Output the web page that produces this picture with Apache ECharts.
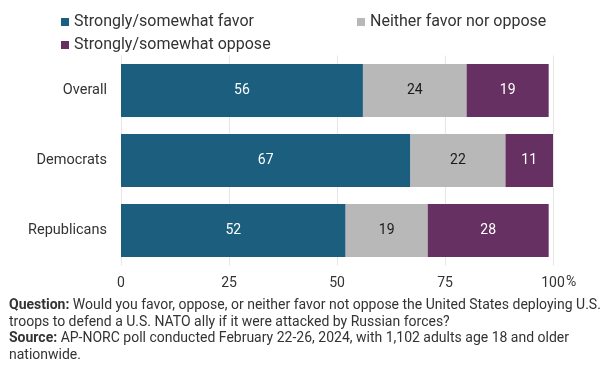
<!DOCTYPE html>
<html><head><meta charset="utf-8">
<script src="https://cdn.jsdelivr.net/npm/echarts@6/dist/echarts.min.js"></script>
<style>html,body{margin:0;padding:0;background:#fff}#c{width:612px;height:374px}</style>
</head><body><div id="c"></div>
<script>
const categories = ['Overall', 'Democrats', 'Republicans'];
const seriesNames = ['Strongly/somewhat favor', 'Neither favor nor oppose', 'Strongly/somewhat oppose'];
const favor = [56, 67, 52];
const neither = [24, 22, 19];
const oppose = [19, 11, 28];
const xTicks = [0, 25, 50, 75, 100];
const colors = ['#1b5e7e', '#b8b8b8', '#673062'];
const labelColors = ['#ffffff', '#1a1a1a', '#ffffff'];
const values = [favor, neither, oppose];

const FONT = 'Roboto';
const chart = echarts.init(document.getElementById('c'), null, {renderer: 'canvas'});
chart.setOption({
  animation: false,
  textStyle: {fontFamily: FONT},
  color: colors,
  legend: [
    {data: [seriesNames[0], seriesNames[1]], left: 56, top: 9, icon: 'rect', itemWidth: 8, itemHeight: 8, itemGap: 103,
     textStyle: {fontFamily: FONT, fontSize: 16, color: '#333'}},
    {data: [seriesNames[2]], left: 56, top: 32, icon: 'rect', itemWidth: 8, itemHeight: 8,
     textStyle: {fontFamily: FONT, fontSize: 16, color: '#333'}}
  ],
  grid: {left: 121, right: 59, top: 55.5, bottom: 108.5, containLabel: false},
  xAxis: {
    type: 'value', min: 0, max: 100, interval: 25,
    axisLine: {show: false}, axisTick: {show: false},
    splitLine: {lineStyle: {color: '#e6e6e6', width: 1}},
    axisLabel: {margin: 11, fontFamily: FONT, fontSize: 14, color: '#333',
      formatter: v => xTicks.includes(v) ? String(v) : ''}
  },
  yAxis: {
    type: 'category', data: categories, inverse: true,
    axisLine: {show: false}, axisTick: {show: false},
    axisLabel: {margin: 14, fontFamily: FONT, fontSize: 14.5, color: '#333'}
  },
  series: seriesNames.map((n, i) => ({
    name: n, type: 'bar', stack: 'total', barCategoryGap: '24%',
    data: values[i],
    itemStyle: {color: colors[i]},
    label: {show: true, position: 'inside', fontFamily: FONT, fontSize: 14, color: labelColors[i]}
  })),
  graphic: [
    {type: 'text', left: 566, top: 275, style: {text: '%', fontFamily: FONT, fontSize: 14, fill: '#333'}},
    {type: 'text', left: 9, top: 297.5, style: {
      text: '{b|Question:} Would you favor, oppose, or neither favor not oppose the United States deploying U.S.\ntroops to defend a U.S. NATO ally if it were attacked by Russian forces?\n{b|Source:} AP-NORC poll conducted February 22-26, 2024, with 1,102 adults age 18 and older\nnationwide.',
      fontFamily: FONT, fontSize: 14, fill: '#333', lineHeight: 16.5,
      rich: {b: {fontFamily: FONT, fontSize: 14, fontWeight: 'bold', fill: '#333', lineHeight: 16.5}}
    }}
  ]
});
</script></body></html>
